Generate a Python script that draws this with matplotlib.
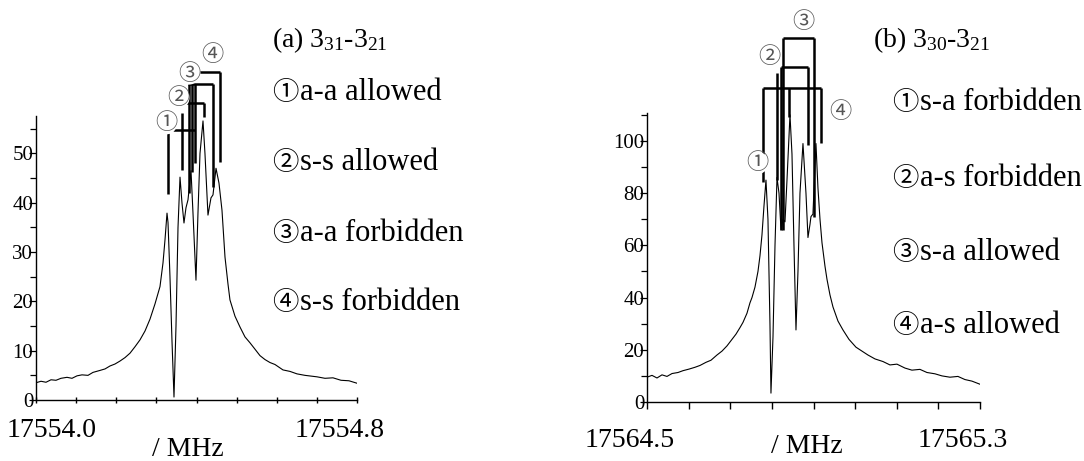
import matplotlib
matplotlib.use("Agg")
import matplotlib.pyplot as plt
from matplotlib.ticker import MultipleLocator, NullFormatter

plt.rcParams['font.family'] = ['Liberation Serif', 'Noto Sans CJK JP', 'DejaVu Sans']
plt.rcParams['mathtext.fontset'] = 'custom'
plt.rcParams['mathtext.rm'] = 'Liberation Serif'

# ---- data ----
base_a = 17554.0
off_a = [0.000, 0.0125, 0.0249, 0.0374, 0.0498, 0.0623, 0.0773, 0.0897, 0.1022, 0.1146,
         0.1296, 0.1420, 0.1595, 0.1720, 0.1844, 0.1969, 0.2093, 0.2218, 0.2343, 0.2467,
         0.2592, 0.2717, 0.2841, 0.2966, 0.3090, 0.3165, 0.3215, 0.3265, 0.3290, 0.3339,
         0.3389, 0.3439, 0.3489, 0.3539, 0.3589, 0.3638, 0.3688, 0.3738, 0.3788, 0.3863,
         0.3912, 0.3987, 0.4037, 0.4087, 0.4162, 0.4211, 0.4286, 0.4361, 0.4411, 0.4486,
         0.4560, 0.4635, 0.4710, 0.4785, 0.4834, 0.4959, 0.5084, 0.5208, 0.5333, 0.5458,
         0.5582, 0.5707, 0.5831, 0.5956, 0.6155, 0.6330, 0.6504, 0.6703, 0.7003, 0.7202,
         0.7401, 0.7601, 0.7800, 0.8000]
int_a = [3.5, 3.8, 3.6, 4.1, 4.0, 4.4, 4.6, 4.4, 4.9, 5.1,
         5.0, 5.6, 6.0, 6.3, 6.9, 7.3, 7.9, 8.6, 9.5, 10.8,
         12.2, 14.0, 16.4, 19.5, 23.0, 27.8, 32.5, 37.9, 36.0, 25.0,
         12.0, 0.6, 15.0, 35.0, 45.2, 40.0, 35.9, 39.0, 40.6, 46.5,
         38.0, 24.3, 38.0, 50.0, 56.6, 50.0, 37.5, 41.0, 41.6, 47.0,
         44.0, 38.5, 29.0, 23.5, 20.3, 17.0, 14.8, 12.8, 11.6, 10.3,
         9.0, 8.2, 7.6, 7.2, 6.1, 5.8, 5.3, 5.0, 4.7, 4.4,
         4.5, 4.0, 3.9, 3.4]

base_b = 17564.5
off_b = [0.0, 0.0120, 0.0240, 0.0360, 0.0480, 0.0601, 0.0745, 0.0865, 0.1009, 0.1153,
         0.1273, 0.1417, 0.1537, 0.1681, 0.1802, 0.1922, 0.2018, 0.2138, 0.2234, 0.2306,
         0.2402, 0.2474, 0.2522, 0.2594, 0.2666, 0.2714, 0.2762, 0.2810, 0.2858, 0.2906,
         0.2954, 0.2978, 0.3027, 0.3075, 0.3123, 0.3171, 0.3219, 0.3267, 0.3315, 0.3363,
         0.3435, 0.3483, 0.3531, 0.3579, 0.3627, 0.3675, 0.3747, 0.3819, 0.3867, 0.3915,
         0.3939, 0.3987, 0.4059, 0.4107, 0.4156, 0.4204, 0.4276, 0.4324, 0.4396, 0.4468,
         0.4588, 0.4708, 0.4852, 0.5020, 0.5164, 0.5308, 0.5477, 0.5669, 0.5837, 0.6005,
         0.6197, 0.6365, 0.6557, 0.6726, 0.6918, 0.7086, 0.7278, 0.7470, 0.7638, 0.7806,
         0.8000]
int_b = [9.5, 10.2, 9.2, 10.4, 9.8, 10.9, 11.3, 12.0, 12.6, 13.3,
         14.0, 15.2, 16.0, 18.0, 19.5, 21.5, 23.5, 26.0, 28.5, 30.5,
         34.0, 38.0, 40.0, 44.0, 50.0, 56.0, 64.0, 75.0, 85.0, 70.0,
         30.0, 3.4, 25.0, 60.0, 86.0, 80.0, 66.0, 70.0, 69.0, 85.0,
         110.0, 95.0, 60.0, 27.6, 50.0, 80.0, 99.0, 80.0, 63.0, 68.0,
         71.0, 72.0, 99.0, 82.0, 70.0, 61.0, 52.0, 47.0, 41.0, 36.4,
         31.0, 27.6, 24.0, 21.0, 19.5, 18.0, 16.5, 15.5, 14.2, 14.5,
         13.0, 12.2, 12.5, 11.3, 10.8, 10.0, 9.5, 9.8, 8.6, 8.0,
         6.8]

# assignment sticks: (x1, y1, x2, y2) as MHz offset / intensity
sticks_a = [(0.3290, 54.2, 0.3290, 41.8), (0.3414, 54.8, 0.3962, 54.8),
            (0.3638, 58.2, 0.3638, 46.7), (0.3713, 60.2, 0.4187, 60.2),
            (0.4187, 60.2, 0.4187, 57.4), (0.3813, 64.1, 0.3813, 42.0),
            (0.3888, 64.1, 0.3888, 46.2), (0.3962, 64.1, 0.3962, 48.1),
            (0.3788, 64.1, 0.4411, 64.1), (0.4411, 64.1, 0.4411, 43.2),
            (0.4012, 66.5, 0.4585, 66.5), (0.4585, 66.5, 0.4585, 48.3)]
marks_a = [(0.3240, 56.2), (0.3539, 61.3), (0.3813, 66.3), (0.4386, 70.0)]

sticks_b = [(0.2786, 120.3, 0.4180, 120.3), (0.2786, 120.3, 0.2786, 84.3),
            (0.4180, 120.3, 0.4180, 99.2), (0.3411, 120.3, 0.3411, 109.2),
            (0.3219, 128.4, 0.3867, 128.4), (0.3867, 128.4, 0.3867, 98.5),
            (0.3219, 128.4, 0.3219, 65.9), (0.3123, 126.1, 0.3123, 85.1),
            (0.3267, 139.5, 0.4011, 139.5), (0.3267, 139.5, 0.3267, 65.9),
            (0.4011, 139.5, 0.4011, 70.9)]
marks_b = [(0.2642, 91.6), (0.2930, 132.2), (0.3747, 145.6), (0.4636, 111.1)]

circled = ['①', '②', '③', '④']
title_a = r'(a) $\mathregular{3_{31}}$-$\mathregular{3_{21}}$'
title_b = r'(b) $\mathregular{3_{30}}$-$\mathregular{3_{21}}$'
labels_a = ['a-a allowed', 's-s allowed', 'a-a forbidden', 's-s forbidden']
labels_b = ['s-a forbidden', 'a-s forbidden', 's-a allowed', 'a-s allowed']

W, H = 1084, 461
fig = plt.figure(figsize=(W / 100, H / 100), dpi=100)


def px(x, y):
    return x / W, 1 - y / H


def setup(ax, base, ymax, major, minor, xdir):
    ax.set_xlim(base, base + 0.8)
    ax.set_ylim(0, ymax)
    for s in ['top', 'right']:
        ax.spines[s].set_visible(False)
    for s in ['left', 'bottom']:
        ax.spines[s].set_linewidth(1.0)
    ax.xaxis.set_major_locator(MultipleLocator(0.1))
    ax.xaxis.set_major_formatter(NullFormatter())
    ax.tick_params(axis='x', direction=xdir, length=5, width=1.0)
    ax.yaxis.set_major_locator(MultipleLocator(major))
    ax.yaxis.set_minor_locator(MultipleLocator(minor))
    ax.tick_params(axis='y', which='major', direction='out', length=5, width=0.9,
                   pad=-3, labelsize=15)
    ax.tick_params(axis='y', which='minor', direction='out', length=4, width=0.9)


def draw_marks(ax, base, sticks, marks):
    for x1, y1, x2, y2 in sticks:
        ax.plot([base + x1, base + x2], [y1, y2], color='black', lw=1.8,
                clip_on=False, solid_capstyle='butt')
    for c, (x, y) in zip(circled, marks):
        ax.text(base + x, y, c, fontsize=16, color='#555555', ha='center', va='center',
                family='Noto Sans CJK JP', clip_on=False,
                bbox=dict(boxstyle='circle,pad=0', fc='white', ec='none'))


ax_a = fig.add_axes([36 / W, 1 - 400 / H, 321 / W, 284 / H])
setup(ax_a, base_a, 57.6, 10, 5, 'inout')
ax_a.plot([base_a + o for o in off_a], int_a, color='black', lw=0.8)
draw_marks(ax_a, base_a, sticks_a, marks_a)

ax_b = fig.add_axes([647 / W, 1 - 402 / H, 333 / W, 289 / H])
setup(ax_b, base_b, 110.7, 20, 10, 'out')
ax_b.plot([base_b + o for o in off_b], int_b, color='black', lw=0.8)
draw_marks(ax_b, base_b, sticks_b, marks_b)

# axis end labels and unit
fig.text(*px(52, 430), '17554.0', fontsize=20, ha='center', va='center')
fig.text(*px(340, 430), '17554.8', fontsize=20, ha='center', va='center')
fig.text(*px(188, 449), '/ MHz', fontsize=20, ha='center', va='center')
fig.text(*px(630, 440), '17564.5', fontsize=20, ha='center', va='center')
fig.text(*px(963, 440), '17565.3', fontsize=20, ha='center', va='center')
fig.text(*px(807, 459), '/ MHz', fontsize=20, ha='center', va='bottom')

# titles and legends
fig.text(*px(272, 40), title_a, fontsize=20, ha='left', va='center')
fig.text(*px(873, 40), title_b, fontsize=20, ha='left', va='center')
for i, y in enumerate([92, 163, 233, 303]):
    fig.text(*px(272, y), circled[i], fontsize=19, family='Noto Sans CJK JP',
             ha='left', va='center')
    fig.text(*px(300, y), labels_a[i], fontsize=22, ha='left', va='center')
for i, y in enumerate([102, 178, 252, 325]):
    fig.text(*px(892, y), circled[i], fontsize=19, family='Noto Sans CJK JP',
             ha='left', va='center')
    fig.text(*px(920, y), labels_b[i], fontsize=22, ha='left', va='center')

fig.savefig('out.png', dpi=100)
